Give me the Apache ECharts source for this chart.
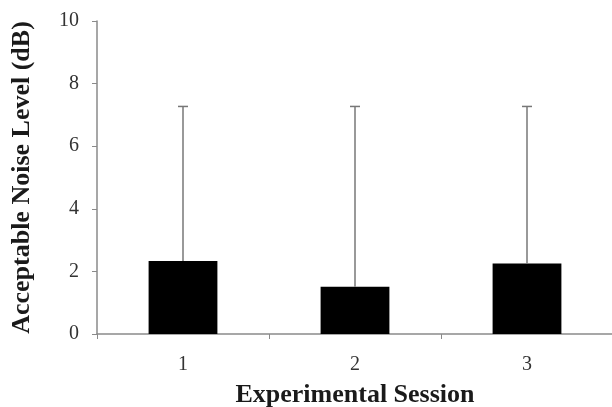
<!DOCTYPE html>
<html><head><meta charset="utf-8">
<script src="https://cdn.jsdelivr.net/npm/echarts@6/dist/echarts.min.js"></script>
<style>html,body{margin:0;padding:0;background:#fff}#c{width:612px;height:407px}</style>
</head><body><div id="c"></div>
<script>
const categories = ['1', '2', '3'];
const means = [2.33, 1.51, 2.25];
const upperErrors = [4.94, 5.76, 5.02];
const yTicks = [0, 2, 4, 6, 8, 10];

const chart = echarts.init(document.getElementById('c'));
const serif = '"Liberation Serif", "Times New Roman", serif';
chart.setOption({
  animation: false,
  grid: { left: 97, right: -1, top: 21, bottom: 73, containLabel: false, outerBoundsMode: 'none' },
  xAxis: {
    type: 'category', data: categories,
    name: 'Experimental Session', nameLocation: 'middle', nameGap: 48,
    nameTextStyle: { fontFamily: serif, fontWeight: 'bold', fontSize: 26, color: '#1a1a1a' },
    axisLine: { lineStyle: { color: '#8a8a8a', width: 1.5 } },
    axisTick: { show: true, length: 5, lineStyle: { color: '#8a8a8a' } },
    axisLabel: { fontFamily: serif, fontSize: 20, color: '#333', margin: 21 }
  },
  yAxis: {
    type: 'value', min: 0, max: 10, interval: 2,
    name: 'Acceptable Noise Level (dB)', nameLocation: 'middle', nameGap: 62,
    nameTextStyle: { fontFamily: serif, fontWeight: 'bold', fontSize: 26, color: '#1a1a1a' },
    axisLine: { show: true, lineStyle: { color: '#8a8a8a', width: 1.5 } },
    axisTick: { show: true, length: 5, lineStyle: { color: '#8a8a8a' } },
    splitLine: { show: false },
    axisLabel: { fontFamily: serif, fontSize: 20, color: '#333', margin: 18,
      formatter: v => yTicks.includes(v) ? String(v) : '' }
  },
  series: [
    { type: 'bar', data: means, barWidth: '40%', itemStyle: { color: '#000' }, z: 2 },
    { type: 'custom', z: 3,
      data: means.map((m, i) => [i, m, m + upperErrors[i]]),
      renderItem: (params, api) => {
        const base = api.coord([api.value(0), api.value(1)]);
        const top = api.coord([api.value(0), api.value(2)]);
        const st = { stroke: '#777', lineWidth: 1.5 };
        return { type: 'group', children: [
          { type: 'line', shape: { x1: base[0], y1: base[1], x2: top[0], y2: top[1] }, style: st },
          { type: 'line', shape: { x1: top[0] - 5, y1: top[1], x2: top[0] + 5, y2: top[1] }, style: st }
        ]};
      }
    }
  ]
});
</script></body></html>
